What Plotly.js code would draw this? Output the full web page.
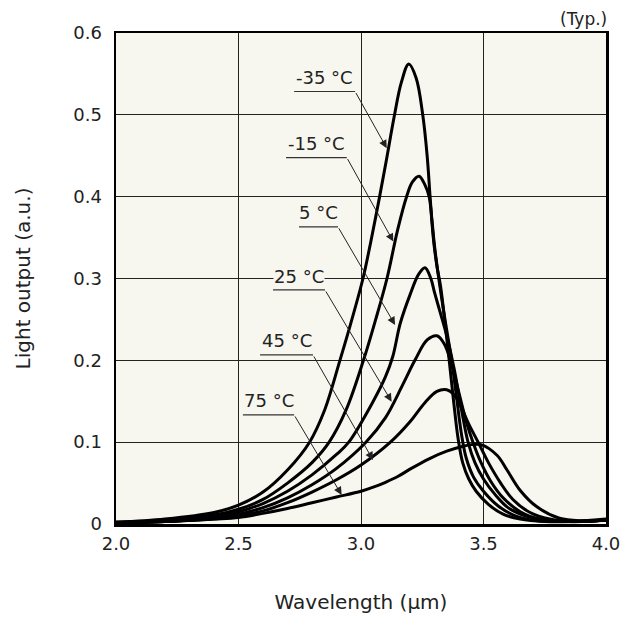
<!DOCTYPE html>
<html>
<head>
<meta charset="utf-8">
<script src="https://cdn.plot.ly/plotly-3.0.1.min.js"></script>
<style>html,body{margin:0;padding:0;background:#fff;}#chart{width:625px;height:624px;}</style>
</head>
<body>
<div id="chart"></div>
<script>
// ---- data ----
const seriesNames = ['-35 °C', '-15 °C', '5 °C', '25 °C', '45 °C', '75 °C'];

const xM35 = [2.0,2.2,2.4,2.5,2.6,2.7,2.79,2.85,2.914,2.96,3.008,3.04,3.074,3.105,3.135,3.165,3.195,3.225,3.252,3.27,3.282,3.295,3.31,3.325,3.345,3.36,3.378,3.396,3.415,3.44,3.47,3.52,3.58,3.65,3.75,3.85,4.0];
const yM35 = [0.002,0.006,0.014,0.023,0.039,0.066,0.1,0.138,0.2,0.247,0.3,0.345,0.397,0.447,0.497,0.54,0.562,0.545,0.5,0.45,0.4,0.35,0.315,0.29,0.24,0.2,0.15,0.105,0.075,0.055,0.04,0.024,0.012,0.006,0.003,0.003,0.006];

const xM15 = [2.0,2.2,2.4,2.5,2.6,2.7,2.8,2.87,2.94,3.01,3.06,3.106,3.15,3.186,3.21,3.237,3.26,3.278,3.29,3.30,3.315,3.34,3.37,3.39,3.41,3.43,3.46,3.5,3.56,3.63,3.72,3.85,4.0];
const yM15 = [0.002,0.005,0.011,0.018,0.03,0.05,0.075,0.1,0.14,0.2,0.25,0.3,0.36,0.4,0.418,0.425,0.415,0.4,0.37,0.34,0.305,0.255,0.2,0.155,0.11,0.08,0.057,0.04,0.022,0.01,0.004,0.003,0.005];

const xP5 = [2.0,2.2,2.4,2.5,2.6,2.7,2.8,2.9,2.95,3.05,3.1,3.13,3.16,3.2,3.235,3.261,3.285,3.30,3.32,3.35,3.38,3.41,3.437,3.465,3.5,3.55,3.6,3.68,3.78,3.9,4.0];
const yP5 = [0.002,0.004,0.009,0.015,0.025,0.04,0.06,0.085,0.1,0.15,0.18,0.205,0.245,0.28,0.305,0.313,0.3,0.283,0.262,0.23,0.19,0.14,0.1,0.075,0.055,0.035,0.02,0.009,0.004,0.003,0.005];

const xP25 = [2.0,2.2,2.4,2.5,2.6,2.7,2.8,2.9,3.02,3.1,3.17,3.22,3.27,3.31,3.34,3.37,3.4,3.43,3.457,3.49,3.53,3.58,3.65,3.73,3.85,4.0];
const yP25 = [0.001,0.003,0.007,0.012,0.02,0.032,0.048,0.068,0.1,0.13,0.17,0.2,0.225,0.23,0.22,0.195,0.16,0.125,0.1,0.075,0.052,0.032,0.015,0.006,0.003,0.005];

const xP45 = [2.0,2.2,2.4,2.5,2.6,2.7,2.8,2.9,3.0,3.12,3.2,3.26,3.31,3.35,3.38,3.41,3.44,3.478,3.52,3.57,3.62,3.69,3.77,3.87,4.0];
const yP45 = [0.001,0.003,0.006,0.01,0.016,0.026,0.039,0.054,0.072,0.1,0.125,0.148,0.162,0.164,0.158,0.142,0.122,0.1,0.075,0.05,0.03,0.014,0.006,0.003,0.005];

const xP75 = [2.0,2.2,2.4,2.5,2.6,2.7,2.8,2.9,3.0,3.05,3.1,3.15,3.2,3.28,3.35,3.417,3.45,3.49,3.555,3.596,3.65,3.718,3.81,3.9,4.0];
const yP75 = [0.001,0.003,0.006,0.008,0.013,0.019,0.026,0.033,0.04,0.045,0.051,0.058,0.067,0.08,0.089,0.095,0.097,0.097,0.084,0.066,0.041,0.021,0.007,0.004,0.005];

const xTickVals = [2.0, 2.5, 3.0, 3.5, 4.0];
const xTickText = ['2.0', '2.5', '3.0', '3.5', '4.0'];
const yTickVals = [0, 0.1, 0.2, 0.3, 0.4, 0.5, 0.6];
const yTickText = ['0', '0.1', '0.2', '0.3', '0.4', '0.5', '0.6'];

const xs = [xM35, xM15, xP5, xP25, xP45, xP75];
const ys = [yM35, yM15, yP5, yP25, yP45, yP75];

// ---- traces ----
const traces = xs.map((x, i) => ({
  type: 'scatter', mode: 'lines', name: seriesNames[i],
  x: x, y: ys[i],
  line: {color: '#000', width: 3, shape: 'spline', smoothing: 1},
  hoverinfo: 'skip'
}));

// label placement: [underline x0, x1, underline y, tip x, tip y]
const labelGeo = [
  [2.727, 2.976, 0.5285, 3.105, 0.4593],
  [2.694, 2.942, 0.4478, 3.132, 0.3451],
  [2.747, 2.906, 0.3631, 3.139, 0.2433],
  [2.641, 2.853, 0.2860, 3.125, 0.1495],
  [2.588, 2.804, 0.2066, 3.049, 0.0782],
  [2.518, 2.727, 0.1333, 2.921, 0.0355]
];

const FONT = 'DejaVu Sans, Verdana, sans-serif';
const TXT = '#222';
const shapes = [];
const annotations = [];
labelGeo.forEach((g, i) => {
  const [x0, x1, yu, tx, ty] = g;
  shapes.push({type: 'line', xref: 'x', yref: 'y', x0: x0, x1: x1, y0: yu, y1: yu,
    line: {color: '#333', width: 1.2}});
  annotations.push({xref: 'x', yref: 'y', x: (x0 + x1) / 2, y: yu + 0.003,
    xanchor: 'center', yanchor: 'bottom', text: seriesNames[i], showarrow: false,
    font: {family: FONT, size: 18, color: TXT}, bgcolor: '#f7f6ef', borderpad: 0});
  annotations.push({xref: 'x', yref: 'y', x: tx, y: ty, axref: 'x', ayref: 'y',
    ax: x1, ay: yu, text: '', showarrow: true, arrowhead: 2, arrowsize: 1.6,
    arrowwidth: 1, arrowcolor: '#222', standoff: 0, startstandoff: 0});
});
annotations.push({xref: 'paper', yref: 'paper', x: 1.006, y: 1.0, xanchor: 'right', yanchor: 'bottom',
  yshift: 2, text: '(Typ.)', showarrow: false, font: {family: FONT, size: 17, color: TXT}});

const layout = {
  width: 625, height: 624,
  margin: {l: 116, r: 19, t: 33, b: 100},
  paper_bgcolor: '#ffffff', plot_bgcolor: '#f7f6ef',
  showlegend: false,
  font: {family: FONT, size: 18, color: TXT},
  xaxis: {
    range: [2, 4], tickvals: xTickVals, ticktext: xTickText,
    showgrid: true, gridcolor: '#222', gridwidth: 1,
    showline: true, mirror: true, linecolor: '#000', linewidth: 2.5,
    zeroline: false, ticks: '', ticklabelstandoff: 2,
    tickfont: {family: FONT, size: 18, color: TXT},
    title: {text: 'Wavelength (µm)', font: {family: FONT, size: 20, color: TXT}, standoff: 42}
  },
  yaxis: {
    range: [0, 0.6], tickvals: yTickVals, ticktext: yTickText,
    showgrid: true, gridcolor: '#222', gridwidth: 1,
    showline: true, mirror: true, linecolor: '#000', linewidth: 2.5,
    zeroline: false, ticks: '', ticklabelstandoff: 8,
    tickfont: {family: FONT, size: 18, color: TXT},
    title: {text: 'Light output (a.u.)', font: {family: FONT, size: 20, color: TXT}, standoff: 38}
  },
  shapes: shapes,
  annotations: annotations
};

Plotly.newPlot('chart', traces, layout, {displayModeBar: false, staticPlot: true});
</script>
</body>
</html>
